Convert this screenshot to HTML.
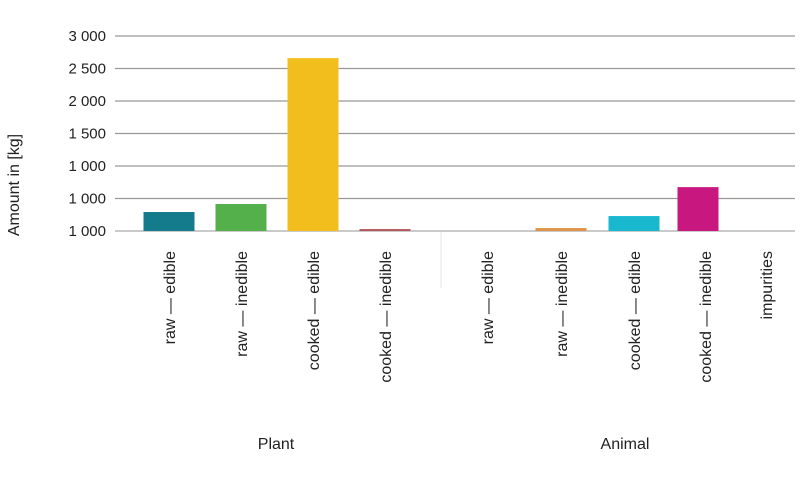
<!DOCTYPE html>
<html><head><meta charset="utf-8"><style>body{margin:0;background:#fff}svg{font-family:"Liberation Sans",sans-serif}</style></head>
<body>
<svg id="chart" width="800" height="475" xmlns="http://www.w3.org/2000/svg"></svg>
<script>
const categories = ["raw — edible","raw — inedible","cooked — edible","cooked — inedible","raw — edible","raw — inedible","cooked — edible","cooked — inedible","impurities"];
const values = [292,415,2660,30,0,45,230,675,0];
const colors = ["#137b8c","#53b04b","#f2be1e","#b5585c","#888","#e0934a","#19b8cf","#c8177e","#888"];
const tickValues = [0,500,1000,1500,2000,2500,3000];
const tickLabels = ["1 000","1 000","1 000","1 500","2 000","2 500","3 000"];
const groups = ["Plant","Animal"];
const svg = document.getElementById('chart');
const NS = "http://www.w3.org/2000/svg";
const y = v => 231 - v * (195/3000);
const centers = [169,241,313,385,487,561,634,698,766];
const xc = i => centers[i];
function mk(t, a, txt){const e=document.createElementNS(NS,t);for(const k in a)e.setAttribute(k,a[k]);if(txt!==undefined)e.textContent=txt;svg.appendChild(e);return e;}
tickValues.forEach((v,i)=>{
  const l=mk('line',{x1:115,x2:795,y1:y(v),y2:y(v),stroke:i===0?'#aaa':'#999','stroke-width':1.3});
  
  
  const t=mk('text',{x:106,y:y(v)+5,'text-anchor':'end','font-size':15,fill:'#222'},tickLabels[i]);
  
  
});
const sep=mk('line',{x1:441,x2:441,y1:232,y2:288,stroke:'#e4e4e4','stroke-width':1});


values.forEach((v,i)=>{
  const w = i===7 ? 41 : 51;
  const r=mk('rect',{x:xc(i)-w/2,y:y(v),width:w,height:231-y(v),fill:colors[i]});
  
  
  const lx = i===7 ? 705 : xc(i);
  const t=mk('text',{x:0,y:0,'text-anchor':'end','font-size':16,fill:'#222',transform:`translate(${lx+6},251) rotate(-90)`},categories[i]);
  
  
});
[276,625].forEach((gx,i)=>{
  const t=mk('text',{x:gx,y:449,'text-anchor':'middle','font-size':16,fill:'#222'},groups[i]);
  
  
});
const yt=mk('text',{x:0,y:0,'text-anchor':'middle','font-size':16,fill:'#222',transform:'translate(19,185) rotate(-90)'},'Amount in [kg]');


</script>
</body></html>
